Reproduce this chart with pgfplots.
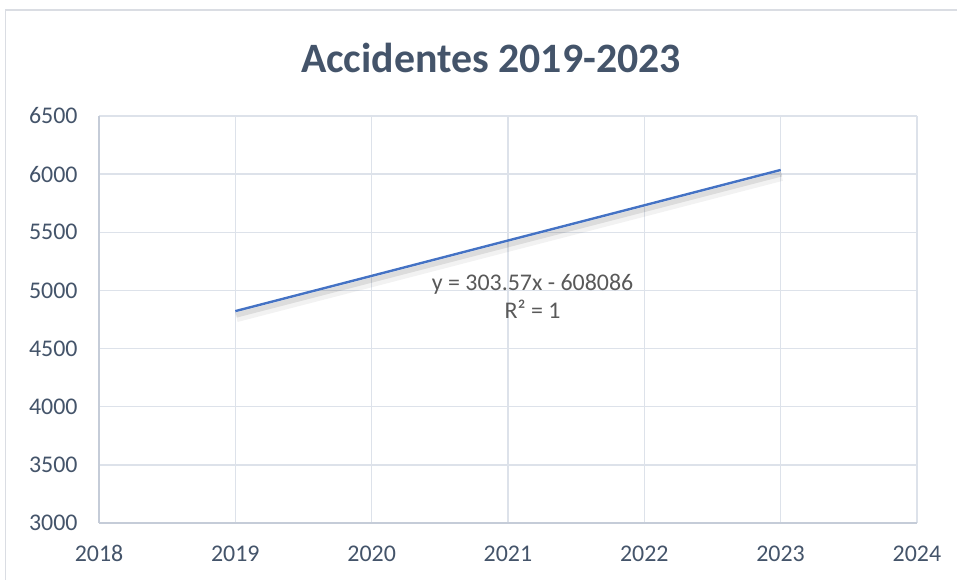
\documentclass[border=0pt]{standalone}
\usepackage{pgfplots}
\pgfplotsset{compat=1.18}
\usepackage{fontspec}
\setmainfont{Carlito}
\definecolor{titlec}{HTML}{44546A}
\definecolor{tickc}{HTML}{44546A}
\definecolor{gridc}{HTML}{DDE2EA}
\definecolor{axisc}{HTML}{C5CCD8}
\definecolor{linec}{HTML}{4472C4}
\definecolor{eqc}{HTML}{595959}
\definecolor{borderc}{HTML}{DADDE3}
\begin{document}
\begin{tikzpicture}[x=1bp,y=1bp]
\useasboundingbox (0,0) rectangle (957,580);
\fill[white] (0,0) rectangle (957,580);
\draw[borderc, line width=1.2bp] (5.5,0) -- (5.5,570) -- (957,570);
\node[font=\fontsize{42}{48}\selectfont\bfseries, text=titlec] at (491,522) {Accidentes 2019-2023};
\begin{axis}[
  at={(99bp,57bp)}, anchor=south west,
  scale only axis, width=818bp, height=407bp,
  xmin=2018, xmax=2024, ymin=3000, ymax=6500,
  xtick={2018,2019,...,2024}, ytick={3000,3500,...,6500},
  axis x line=bottom, axis y line=left,
  axis line style={draw=axisc, line width=1.5bp, -},
  grid=major, major grid style={draw=gridc, line width=1.5bp},
  major tick length=0pt,
  ticklabel style={font=\fontsize{24}{28}\selectfont, text=tickc},
  /pgf/number format/assume math mode=true,
  /pgf/number format/1000 sep={},
  xticklabel style={yshift=-19bp},
  yticklabel style={xshift=-18bp},
  clip=false,
]
\addplot[draw=black, opacity=0.05, line width=10bp, yshift=-6bp, xshift=1bp] coordinates {(2019,4822) (2020,5125) (2021,5429) (2022,5732) (2023,6036)};
\addplot[draw=black, opacity=0.09, line width=5bp, yshift=-4bp, xshift=1bp] coordinates {(2019,4822) (2020,5125) (2021,5429) (2022,5732) (2023,6036)};
\addplot[draw=linec, line width=2.4bp] coordinates {(2019,4822) (2020,5125) (2021,5429) (2022,5732) (2023,6036)};
\node[align=center, font=\fontsize{24}{28}\selectfont, text=eqc] at (axis cs:2021.18,4952) {y = 303.57x - 608086\\R² = 1};
\end{axis}
\end{tikzpicture}
\end{document}
